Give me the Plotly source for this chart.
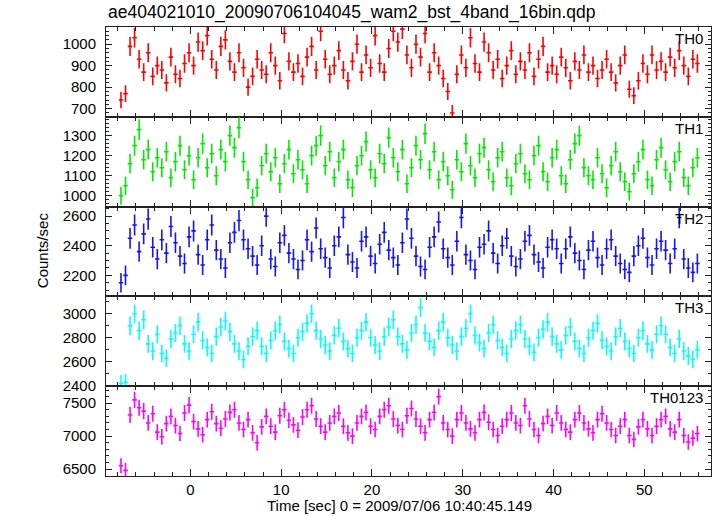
import numpy as np
import plotly.graph_objects as go
from plotly.subplots import make_subplots

TITLE = "ae404021010_20090706104045_wam2_bst_4band_16bin.qdp"
XLABEL = "Time [sec] 0 = 2009/07/06 10:40:45.149"
YLABEL = "Counts/sec"

T_START = -7.65   # centre of first bin (s)
BIN = 0.5         # bin width (s)

TH0 = [740, 770, 990, 1030, 930, 870, 960, 850,
       900, 880, 820, 940, 860, 840, 910, 960,
       900, 1010, 970, 1040, 930, 880, 990, 1020,
       920, 870, 960, 890, 800, 850, 930, 880,
       860, 960, 900, 830, 1050, 920, 870, 910,
       850, 940, 990, 880, 1060, 930, 860, 900,
       970, 880, 830, 920, 1000, 870, 950, 890,
       1040, 910, 870, 980, 1060, 1010, 1070, 950,
       890, 1000, 940, 1050, 870, 960, 900, 840,
       780, 680, 860, 950, 890, 1030, 910, 870,
       1010, 960, 880, 930, 840, 900, 970, 860,
       920, 880, 960, 850, 930, 990, 870, 900,
       860, 940, 890, 830, 920, 880, 950, 870,
       900, 840, 880, 930, 870, 820, 900, 950,
       790, 760, 830, 910, 860, 950, 880, 920,
       870, 940, 890, 970, 900, 850, 930, 910]

TH1 = [1000, 1050, 1160, 1250, 1330, 1180, 1230, 1120,
       1190, 1140, 1220, 1090, 1170, 1250, 1130, 1200,
       1080, 1190, 1260, 1140, 1210, 1100, 1230, 1170,
       1300, 1240, 1340, 1170, 1080, 990, 1040, 1150,
       1210, 1120, 1190, 1060, 1160, 1230, 1110, 1180,
       1130, 1060, 1200, 1250, 1300, 1150, 1220, 1090,
       1170, 1230, 1080, 1040, 1150, 1200, 1270, 1130,
       1090, 1210, 1160, 1290, 1190, 1120, 1230, 1060,
       1140, 1250, 1180, 1310, 1130, 1220, 1080, 1170,
       1100, 1030, 1180, 1120, 1260, 1150, 1090, 1210,
       1240, 1130, 1070, 1190, 1220, 1090, 1050, 1160,
       1210, 1110, 1080, 1200, 1250, 1120, 1070, 1190,
       1230, 1100, 1060, 1180, 1260, 1300, 1140, 1100,
       1080, 1190, 1110, 1040, 1150, 1220, 1120, 1070,
       1020, 1110, 1170, 1230, 1080, 1050, 1180, 1240,
       1130, 1070, 1170, 1220, 1090, 1050, 1140, 1190]

TH2 = [2150, 2200, 2450, 2540, 2360, 2480, 2580, 2390,
       2310, 2440, 2350, 2530, 2420, 2330, 2280, 2460,
       2500, 2340, 2270, 2440, 2540, 2370, 2310, 2250,
       2420, 2490, 2570, 2440, 2380, 2330, 2270, 2400,
       2600, 2310, 2260, 2420, 2470, 2350, 2310, 2240,
       2300, 2440, 2360, 2520, 2380, 2320, 2250, 2400,
       2460, 2590, 2340, 2290, 2250, 2430, 2460, 2330,
       2280, 2410, 2490, 2370, 2320, 2270, 2420, 2580,
       2450, 2330, 2260, 2240, 2390, 2460, 2560, 2380,
       2320, 2270, 2430, 2590, 2340, 2300, 2240, 2390,
       2410, 2500, 2350, 2280, 2400, 2450, 2330, 2260,
       2310, 2430, 2470, 2340, 2290, 2250, 2390, 2440,
       2380, 2280, 2380, 2460, 2350, 2300, 2240, 2370,
       2430, 2320, 2270, 2380, 2440, 2330, 2280, 2240,
       2220, 2330, 2400, 2450, 2320, 2270, 2380, 2430,
       2370, 2280, 2380, 2590, 2310, 2250, 2220, 2280]

TH3 = [2420, 2430, 2900, 3000, 2860, 2950, 2750, 2690,
       2830, 2670, 2630, 2790, 2840, 2900, 2750, 2690,
       2830, 2930, 2780, 2720, 2670, 2810, 2890, 2940,
       2850, 2750, 2690, 2620, 2730, 2810, 2860, 2730,
       2670, 2780, 2860, 2910, 2770, 2710, 2670, 2800,
       2850, 2920, 3000, 2860, 2790, 2740, 2690, 2820,
       2880, 2770, 2710, 2670, 2800, 2860, 2930, 2800,
       2740, 2690, 2810, 2890, 2950, 2810, 2750, 2700,
       2840, 2910, 3050, 2840, 2770, 2720, 2860, 2930,
       2800, 2740, 2690, 2810, 2880, 3000, 2820, 2760,
       2710, 2840, 2910, 2780, 2720, 2670, 2790, 2860,
       2910, 2790, 2730, 2680, 2800, 2870, 2930, 2810,
       2750, 2700, 2820, 2890, 2770, 2710, 2670, 2800,
       2860, 2920, 2780, 2730, 2690, 2810, 2880, 2770,
       2710, 2670, 2800, 2860, 2750, 2700, 2830, 2900,
       2830, 2720, 2670, 2790, 2690, 2650, 2620, 2700]

TH0123 = [6550, 6480, 7320, 7550, 7430, 7380, 7200, 7340,
          7060, 6990, 7190, 7300, 7160, 7040, 7350, 7470,
          7220, 7110, 7020, 7250, 7370, 7190, 7120, 7260,
          7360, 7400, 7200, 7100, 7250, 7050, 6900, 7140,
          7300, 7150, 7060, 7310, 7400, 7240, 7170, 7090,
          7290, 7400, 7460, 7260, 7150, 7060, 7200, 7300,
          7350, 7150, 7050, 7000, 7200, 7300, 7360, 7150,
          7100, 7300, 7400, 7460, 7260, 7160, 7100, 7310,
          7420, 7260, 7150, 7050, 7250, 7360, 7600, 7200,
          7100, 7000, 7250, 7350, 7200, 7110, 7050, 7250,
          7360, 7210, 7100, 7010, 7150, 7250, 7350, 7200,
          7160, 7460, 7260, 7100, 7010, 7190, 7300, 7160,
          7350, 7200, 7100, 7060, 7250, 7350, 7200, 7110,
          7050, 7250, 7340, 7200, 7100, 7010, 7150, 7250,
          7010, 6950, 7140, 7250, 7110, 7010, 7150, 7250,
          7300, 7110, 7060, 7250, 7010, 6910, 6970, 7040]

NAMES = ["TH0", "TH1", "TH2", "TH3", "TH0123"]
DATA = [TH0, TH1, TH2, TH3, TH0123]
COLORS = ["rgb(255,0,0)", "rgb(0,235,0)", "rgb(20,20,255)", "rgb(0,255,255)", "rgb(255,0,255)"]
YRANGES = [[662, 1080], [946, 1394], [2058, 2664], [2398, 3144], [6394, 7758]]
YDTICK = [100, 100, 200, 200, 500]
YMINOR = [20, 20, 50, 100, 100]

XRANGE = [-9.3, 57.35]

FONT = "Liberation Sans, Arial, Helvetica, sans-serif"
AXCOL = "#222222"

fig = make_subplots(rows=5, cols=1, shared_xaxes=True, vertical_spacing=0)

for k, (name, vals, col) in enumerate(zip(NAMES, DATA, COLORS)):
    v = np.array(vals, dtype=float)
    t = T_START + BIN * np.arange(len(v))
    err = np.sqrt(v / BIN)
    fig.add_trace(go.Scatter(
        x=t, y=v, mode="markers",
        marker=dict(size=1, color=col),
        error_x=dict(type="constant", value=BIN / 2, width=0, thickness=1.6, color=col),
        error_y=dict(type="data", array=err, width=0, thickness=1.6, color=col),
        showlegend=False, hoverinfo="skip"), row=k + 1, col=1)
    fig.update_yaxes(
        range=YRANGES[k], dtick=YDTICK[k], tick0=0, ticks="inside", ticklen=6,
        tickcolor=AXCOL, tickwidth=1,
        minor=dict(dtick=YMINOR[k], tick0=0, ticks="inside", ticklen=3, tickcolor=AXCOL),
        showline=True, linecolor=AXCOL, linewidth=1, mirror="allticks",
        showgrid=False, zeroline=False, ticklabelstandoff=6,
        tickfont=dict(family=FONT, size=15, color="black"),
        row=k + 1, col=1)
    fig.update_xaxes(
        range=XRANGE, dtick=10, tick0=0, ticks="inside", ticklen=7,
        tickcolor=AXCOL, tickwidth=1,
        minor=dict(dtick=2, tick0=0, ticks="inside", ticklen=4, tickcolor=AXCOL),
        showline=True, linecolor=AXCOL, linewidth=1, mirror="allticks",
        showgrid=False, zeroline=False,
        tickfont=dict(family=FONT, size=15, color="black"),
        row=k + 1, col=1)

# panel labels
for k, name in enumerate(NAMES):
    yref = "y domain" if k == 0 else f"y{k + 1} domain"
    fig.add_annotation(text=name, xref="paper", yref=yref, x=(705 - 106) / 605, y=1.0,
                       xanchor="right", yanchor="top", yshift=-1, showarrow=False,
                       font=dict(family=FONT, size=15, color="black"))

fig.add_annotation(text=TITLE, xref="paper", yref="paper", x=0, y=1, xanchor="left",
                   yanchor="bottom", yshift=2, showarrow=False,
                   font=dict(family=FONT, size=17.5, color="black"))
fig.add_annotation(text=YLABEL, xref="paper", yref="paper", x=(42 - 106) / 605, y=0.503,
                   textangle=-90, xanchor="center", yanchor="middle", showarrow=False,
                   font=dict(family=FONT, size=15, color="black"))
fig.add_annotation(text=XLABEL, xref="paper", yref="paper", x=(399 - 106) / 605, y=(476 - 505) / 449,
                   xanchor="center", yanchor="middle", showarrow=False,
                   font=dict(family=FONT, size=15, color="black"))

fig.update_layout(width=717, height=516, margin=dict(l=106, r=6, t=27, b=40),
                  paper_bgcolor="white", plot_bgcolor="white",
                  font=dict(family=FONT, size=15, color="black"))

fig.write_html("out.html", config={"displayModeBar": False},
               post_script="document.body.style.margin='0px';document.body.style.overflow='hidden';")
